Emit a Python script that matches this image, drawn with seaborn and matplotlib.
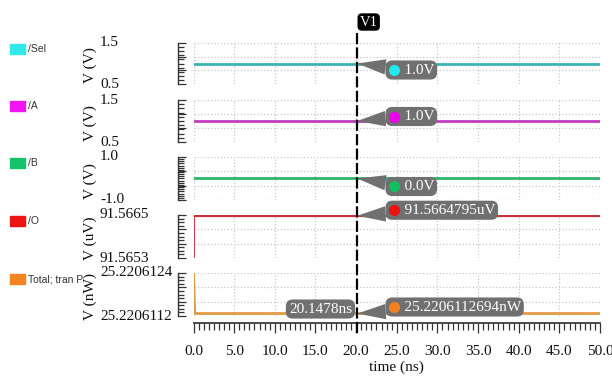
import seaborn as sns
import matplotlib.pyplot as plt
import matplotlib.ticker as mticker
import matplotlib.transforms as mtransforms
from matplotlib.patches import Rectangle
from matplotlib.lines import Line2D

names = ['/Sel', '/A', '/B', '/O', 'Total; tran P']
units = ['V (V)', 'V (V)', 'V (V)', 'V (uV)', 'V (nW)']
t_sel = [0.0, 50.0]
v_sel = [1.0, 1.0]
t_a = [0.0, 50.0]
v_a = [1.0, 1.0]
t_b = [0.0, 50.0]
v_b = [0.0, 0.0]
t_o = [0.0, 0.01, 50.0]
v_o = [91.5653, 91.5664795, 91.5664795]
t_p = [0.0, 0.15, 50.0]
v_p = [25.2206124, 25.2206112694, 25.2206112694]
y_lo = [0.5, 0.5, -1.0, 91.5653, 25.2206112]
y_hi = [1.5, 1.5, 1.0, 91.5665, 25.2206124]
y_dec = [1, 1, 1, 4, 7]
x_ticks = [0, 5, 10, 15, 20, 25, 30, 35, 40, 45, 50]
cursor_t = 20.1478
cursor_vals = [1.0, 1.0, 0.0, 91.5664795, 25.2206112694]
cursor_txt = ['1.0V', '1.0V', '0.0V', '91.5664795uV', '25.2206112694nW']

series_t = [t_sel, t_a, t_b, t_o, t_p]
series_v = [v_sel, v_a, v_b, v_o, v_p]

# ---- styling ----
line_cols = ['#3ab5b5', '#c23cc2', '#2fb36f', '#c8323a', '#e39a45']
key_cols = ['#33e8e8', '#f014f0', '#14c46c', '#ee1414', '#f28522']
dot_cols = ['#22e8f0', '#ee00ee', '#10c060', '#ee1010', '#f08020']
n_minor = [11, 11, 21, 13, 13]          # ruler ticks per panel
panel_top = [43, 100, 157, 215, 273]      # px from top
panel_bot = [84, 142, 200, 258, 316]
call_dy = [-6.5, 4.5, -8.0, 5.5, 6.5]     # px, callout offset from trace
W, H = 612, 385
PX = 72 / 100  # px -> pt

sns.set_theme(style='white')
plt.rcParams['font.family'] = ['Liberation Serif', 'DejaVu Serif']

fig = plt.figure(figsize=(6.12, 3.85), dpi=100)
fig.patch.set_facecolor('white')
L, Wd = 193.5 / W, 406.5 / W
axes = []

for i in range(5):
    top, bot = panel_top[i], panel_bot[i]
    ax = fig.add_axes([L, 1 - bot / H, Wd, (bot - top) / H])
    axes.append(ax)
    sns.lineplot(x=series_t[i], y=series_v[i], ax=ax, color=line_cols[i],
                 lw=2, estimator=None, sort=False, zorder=3)
    ax.set_xlim(0, 50)
    ax.set_ylim(y_lo[i], y_hi[i])
    ax.set_xticks(x_ticks)
    ax.xaxis.set_minor_locator(mticker.MultipleLocator(0.625))
    ax.yaxis.set_major_locator(mticker.LinearLocator(4))
    ax.yaxis.set_minor_locator(mticker.LinearLocator(n_minor[i]))
    ax.yaxis.set_major_formatter(mticker.NullFormatter())
    ax.yaxis.set_minor_formatter(mticker.NullFormatter())
    ax.grid(True, which='major', color='#c8c8c8', ls=':', lw=0.9)
    ax.set_xlabel('')
    ax.set_ylabel('')
    for s in ['top', 'right', 'bottom']:
        ax.spines[s].set_visible(False)
    ax.spines['left'].set_position(('outward', 11))
    ax.spines['left'].set_color('#333333')
    ax.spines['left'].set_linewidth(1)
    ax.tick_params(axis='y', which='both', direction='in', left=True,
                   color='#333333', width=0.9)
    ax.tick_params(axis='y', which='major', length=6)
    ax.tick_params(axis='y', which='minor', length=4.5)
    if i < 4:
        ax.tick_params(axis='x', which='both', bottom=False, labelbottom=False)

    # y limits as text, left aligned like the viewer
    yt = mtransforms.blended_transform_factory(fig.transFigure, ax.transData)
    for yv in (y_hi[i], y_lo[i]):
        ax.text(100 / W, yv, f'{yv:.{y_dec[i]}f}', transform=yt, ha='left',
                va='center', fontsize=11, color='#111111', clip_on=False)
    ya = mtransforms.blended_transform_factory(fig.transFigure, ax.transAxes)
    ax.text(90 / W, 0.45, units[i], transform=ya, rotation=90, ha='center',
            va='center', fontsize=11, color='#111111', clip_on=False)

    # legend key on the left
    ky = top + 6
    fig.patches.append(Rectangle((10 / W, 1 - (ky + 5) / H), 15 / W, 10 / H,
                                 transform=fig.transFigure, color=key_cols[i]))
    fig.text(28 / W, 1 - ky / H, names[i], va='center', ha='left',
             fontsize=7.5, family='Liberation Sans', color='#333333')

    # cursor readout callout
    dy = call_dy[i] * PX
    ax.annotate('    ' + cursor_txt[i], xy=(cursor_t, cursor_vals[i]),
                xytext=(31.2 * PX, dy), textcoords='offset points',
                ha='left', va='center', fontsize=11, color='white',
                bbox=dict(boxstyle='round,pad=0.2,rounding_size=0.45',
                          fc='#707070', ec='none'),
                arrowprops=dict(arrowstyle='wedge,tail_width=1.0,shrink_factor=0.5',
                                fc='#707070', ec='none', shrinkA=0, shrinkB=0),
                annotation_clip=False, zorder=5)
    ax.plot([cursor_t], [cursor_vals[i]], 'o', ms=8, color=dot_cols[i], mec='none',
            transform=mtransforms.offset_copy(ax.transData, fig=fig,
                                              x=36.7 * PX, y=dy, units='points'),
            clip_on=False, zorder=6)

# bottom time ruler
ax5 = axes[4]
ax5.spines['bottom'].set_visible(True)
ax5.spines['bottom'].set_position(('outward', 5))
ax5.spines['bottom'].set_color('#333333')
ax5.tick_params(axis='x', which='both', bottom=True, direction='out',
                color='#333333', width=0.9)
ax5.tick_params(axis='x', which='major', length=7, labelsize=11, pad=9,
                labelcolor='#111111')
ax5.tick_params(axis='x', which='minor', length=5)
ax5.xaxis.set_major_formatter(mticker.FormatStrFormatter('%.1f'))
ax5.set_xlabel('time (ns)', fontsize=11, color='#111111', labelpad=2)

# vertical cursor V1
xt = mtransforms.blended_transform_factory(ax5.transData, fig.transFigure)
fig.add_artist(Line2D([cursor_t, cursor_t], [1 - 33 / H, 1 - 336 / H], transform=xt,
                      color='black', lw=1.6, ls=(0, (5, 1.5)), zorder=10))
ax5.annotate('V1', xy=(cursor_t, 1 - 22 / H), xycoords=('data', 'figure fraction'),
             xytext=(2.4 * PX, 0), textcoords='offset points', ha='left', va='center',
             fontsize=10.5, color='white',
             bbox=dict(boxstyle='round,pad=0.15,rounding_size=0.3', fc='black', ec='none'),
             annotation_clip=False, zorder=11)
ax5.annotate(f'{cursor_t}ns', xy=(cursor_t, cursor_vals[4]),
             xytext=(-5.3 * PX, 4.5 * PX), textcoords='offset points',
             ha='right', va='center', fontsize=11, color='white',
             bbox=dict(boxstyle='round,pad=0.2,rounding_size=0.45', fc='#707070', ec='none'),
             annotation_clip=False, zorder=5)

plt.savefig('out.png', dpi=100)
plt.close()
